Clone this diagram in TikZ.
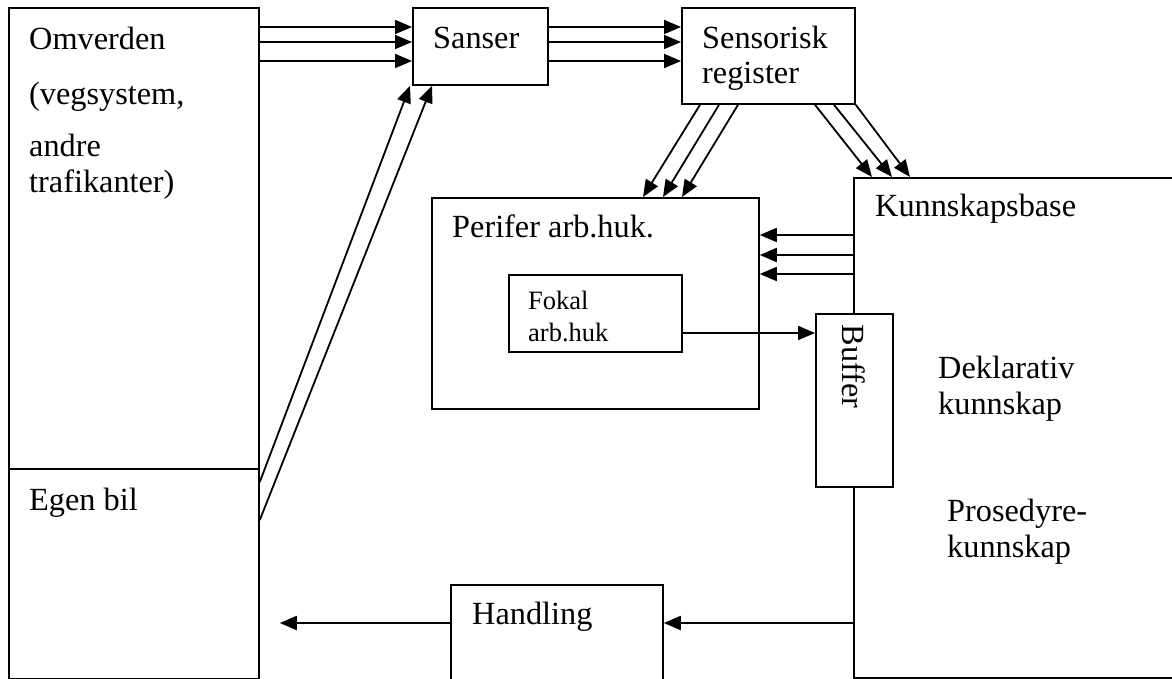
\documentclass[tikz,border=0pt]{standalone}
\usepackage{fontspec}
\setmainfont{Liberation Serif}
\usetikzlibrary{arrows.meta}
\tikzset{
  box/.style={draw, line width=1.8pt, fill=white, inner sep=0pt, anchor=north west},
  txt/.style={anchor=base west, inner sep=0pt, font=\fontsize{32.3pt}{36pt}\selectfont},
  smalltxt/.style={anchor=base west, inner sep=0pt, font=\fontsize{26.5pt}{30pt}\selectfont},
  arr/.style={line width=1.8pt, -{Triangle[length=17pt,width=14pt]}}
}
\begin{document}
\begin{tikzpicture}[x=1pt,y=-1pt]
\useasboundingbox (0,0) rectangle (1172,679);
\clip (0,0) rectangle (1172,679);
\fill[white] (0,0) rectangle (1172,679);
% boxes
\node[box, minimum width=250pt, minimum height=461pt] (omv) at (8,7) {};
\node[box, minimum width=250pt, minimum height=210pt] (egen) at (8,468) {};
\node[box, minimum width=135pt, minimum height=77pt] (sanser) at (412,7) {};
\node[box, minimum width=173pt, minimum height=96pt] (sens) at (681,7) {};
\node[box, minimum width=327pt, minimum height=211pt] (per) at (431,197) {};
\node[box, minimum width=173pt, minimum height=77pt] (fok) at (508,274) {};
\node[box, minimum width=340pt, minimum height=500pt] (kb) at (853,177) {};
\node[box, minimum width=77pt, minimum height=173pt] (buf) at (815,313) {};
\node[box, minimum width=212pt, minimum height=120pt] (hand) at (450,584) {};
% texts
\node[txt] (t1) at (29,50) {Omverden};
\node[txt] (t2) at (29,105) {(vegsystem,};
\node[txt] (t3) at (29,157) {andre};
\node[txt] (t4) at (29,193) {trafikanter)};
\node[txt] (t5) at (29,510) {Egen bil};
\node[txt] (t6) at (433,49) {Sanser};
\node[txt] (t7) at (702,49) {Sensorisk};
\node[txt] (t8) at (702,84) {register};
\node[txt] (t9) at (452,237) {Perifer arb.huk.};
\node[smalltxt] (t10) at (528,309) {Fokal};
\node[smalltxt] (t11) at (528,341) {arb.huk};
\node[txt] (t12) at (875,217) {Kunnskapsbase};
\node[txt, anchor=center, rotate=-90] (t13) at (854,366.5) {Buffer};
\node[txt] (t14) at (938,378) {Deklarativ};
\node[txt] (t15) at (938,414) {kunnskap};
\node[txt] (t16) at (947,521) {Prosedyre-};
\node[txt] (t17) at (947,557) {kunnskap};
\node[txt] (t18) at (472,624) {Handling};
% arrows Omverden -> Sanser, Sanser -> Sensorisk
\foreach \yy in {27,42,61}{
  \draw[arr] (omv.east |- 0,\yy) -- (sanser.west |- 0,\yy);
  \draw[arr] (sanser.east |- 0,\yy) -- (sens.west |- 0,\yy);
}
% Egen bil -> Sanser
\draw[arr] (egen.east |- 0,482) -- (sanser.south -| 410,0);
\draw[arr] (egen.east |- 0,520) -- (sanser.south -| 432,0);
% Sensorisk -> Perifer
\draw[arr] (sens.south -| 700,0) -- (per.north -| 643,0);
\draw[arr] (sens.south -| 719,0) -- (per.north -| 663,0);
\draw[arr] (sens.south -| 738,0) -- (per.north -| 682,0);
% Sensorisk -> Kunnskapsbase
\draw[arr] (sens.south -| 815,0) -- (kb.north -| 872,0);
\draw[arr] (sens.south -| 834,0) -- (kb.north -| 892,0);
\draw[arr] (sens.south east) -- (kb.north -| 910,0);
% Kunnskapsbase -> Perifer
\foreach \yy in {235,255,274}{
  \draw[arr] (kb.west |- 0,\yy) -- (per.east |- 0,\yy);
}
% Fokal -> Buffer
\draw[arr] (fok.east |- 0,333) -- (buf.west |- 0,333);
% Kunnskapsbase -> Handling
\draw[arr] (kb.west |- 0,623) -- (hand.east |- 0,623);
% Handling -> Egen bil
\draw[arr, shorten >=20pt] (hand.west |- 0,623) -- (egen.east |- 0,623);
\end{tikzpicture}
\end{document}
